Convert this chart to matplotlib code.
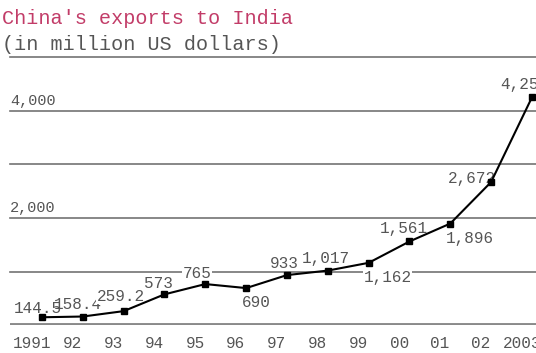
import numpy as np
import matplotlib
matplotlib.use('Agg')
import matplotlib.pyplot as plt

# data
years = ['1991', '92', '93', '94', '95', '96', '97', '98', '99', '00', '01', '02', '2003']
exports = [144.5, 158.4, 259.2, 573, 765, 690, 933, 1017, 1162, 1561, 1896, 2672, 4254]
value_labels = ['144.5', '158.4', '259.2', '573', '765', '690', '933', '1,017',
                '1,162', '1,561', '1,896', '2,672', '4,254']
grid_levels = [1000, 2000, 3000, 4000, 5000]
labelled_levels = [2000, 4000]

# label offsets in pixels (dx, dy)
label_offsets = [(-4, 9), (-5, 12), (-3, 15), (-6, 11), (-8, 11), (10, -14), (-3, 12),
                 (-2, 12), (19, -15), (-6, 13), (20, -15), (-19, 4), (-8, 13)]

plt.rcParams['font.family'] = ['Liberation Mono', 'DejaVu Sans Mono']
text_gray = '#555555'

fig = plt.figure(figsize=(5.36, 3.53), dpi=100)
ax = fig.add_axes([10 / 536, 28 / 353, 1 - 10 / 536, 267.5 / 353])

x = np.arange(len(years))
ax.set_xlim(-0.784, 12.1)
ax.set_ylim(0, 5000)

for lv in grid_levels:
    ax.axhline(lv, color='#737373', lw=1.2, zorder=1, clip_on=False)
ax.axhline(0, color='#8a8a8a', lw=2.8, zorder=1)

for lv in labelled_levels:
    ax.annotate(f'{lv:,}', xy=(0, lv), xycoords=('axes fraction', 'data'),
                xytext=(0, 3), textcoords='offset pixels', ha='left', va='bottom',
                fontsize=11, color=text_gray)

ax.plot(x, exports, color='black', lw=1.5, marker='s', markersize=5, zorder=3)

for i, (xi, v, lab, (dx, dy)) in enumerate(zip(x, exports, value_labels, label_offsets)):
    # the first two labels overlap in the original, so no white box there
    box = None if i < 2 else dict(facecolor='white', edgecolor='none', pad=0.5)
    ax.annotate(lab, xy=(xi, v), xytext=(dx, dy), textcoords='offset pixels',
                ha='center', va='center', fontsize=11.5, color=text_gray, zorder=2,
                bbox=box)

ax.set_xticks(x - 0.25)
ax.set_xticklabels(years, fontsize=11.5, color=text_gray)
ax.tick_params(axis='x', length=0, pad=8)
ax.set_yticks([])
for s in ax.spines.values():
    s.set_visible(False)

fig.text(2 / 536, 1 - 18 / 353, "China's exports to India", ha='left', va='center',
         fontsize=14.5, color='#c23c68')
fig.text(2 / 536, 1 - 44 / 353, "(in million US dollars)", ha='left', va='center',
         fontsize=14.5, color=text_gray)

fig.savefig('out.png', dpi=100)
